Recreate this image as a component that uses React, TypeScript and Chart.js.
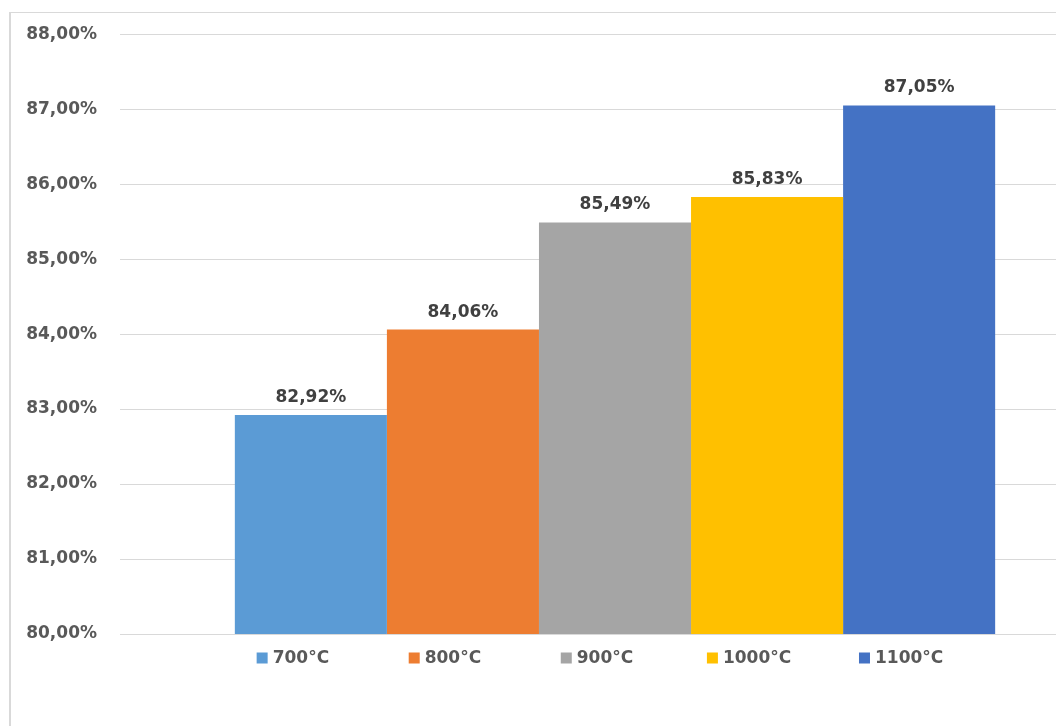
import React, { useEffect, useRef } from "react";
import { Chart, registerables } from "chart.js";
Chart.register(...registerables);

const categories = [""];
const seriesNames = ["700°C", "800°C", "900°C", "1000°C", "1100°C"];
const seriesValues = [82.92, 84.06, 85.49, 85.83, 87.05];
const seriesColors = ["#5B9BD5", "#ED7D31", "#A5A5A5", "#FFC000", "#4472C4"];
const yMin = 80;
const yMax = 88;
const yStep = 1;

const fmt = (v: number) => Number(v).toFixed(2).replace(".", ",") + "%";
const FONT = "'DejaVu Sans', sans-serif";

const labelsPlugin = {
  id: "barLabels",
  afterDatasetsDraw(chart: any) {
    const ctx = chart.ctx;
    ctx.save();
    ctx.font = `bold 17px ${FONT}`;
    ctx.fillStyle = "#404040";
    ctx.textAlign = "center";
    ctx.textBaseline = "bottom";
    chart.data.datasets.forEach((ds: any, i: number) => {
      const meta = chart.getDatasetMeta(i);
      meta.data.forEach((el: any, j: number) => {
        ctx.fillText(fmt(ds.data[j]), el.x, el.y - 9);
      });
    });
    ctx.restore();
  },
};

const legendPlugin = {
  id: "bottomLegend",
  afterDraw(chart: any) {
    const ctx = chart.ctx;
    const y = chart.chartArea.bottom + 24;
    ctx.save();
    ctx.font = `bold 17px ${FONT}`;
    ctx.textBaseline = "middle";
    ctx.textAlign = "left";
    chart.data.datasets.forEach((ds: any, i: number) => {
      const el = chart.getDatasetMeta(i).data[0];
      const box = 11;
      const gap = 5;
      const tw = ctx.measureText(ds.label).width;
      const total = box + gap + tw;
      const x0 = el.x - 18 - total / 2;
      ctx.fillStyle = ds.backgroundColor;
      ctx.fillRect(x0, y - box / 2, box, box);
      ctx.fillStyle = "#595959";
      ctx.fillText(ds.label, x0 + box + gap, y + 1);
    });
    ctx.restore();
  },
};

export default function App() {
  const ref = useRef<HTMLCanvasElement>(null);
  useEffect(() => {
    if (!ref.current) return;
    const chart = new Chart(ref.current, {
      type: "bar",
      data: {
        labels: categories,
        datasets: seriesNames.map((name, i) => ({
          label: name,
          data: [seriesValues[i]],
          backgroundColor: seriesColors[i],
          borderWidth: 0,
        })),
      },
      options: {
        responsive: false,
        animation: false,
        devicePixelRatio: 1,
        datasets: { bar: { categoryPercentage: 0.768, barPercentage: 1 } },
        layout: { padding: { top: 19, right: 18, bottom: 77, left: 0 } },
        plugins: {
          legend: { display: false },
          tooltip: { enabled: false },
          title: { display: false },
        },
        scales: {
          x: { display: false },
          y: {
            min: yMin,
            max: yMax,
            ticks: {
              stepSize: yStep,
              callback: (v: any) => fmt(v),
              color: "#595959",
              font: { family: FONT, size: 17, weight: "bold" },
              padding: 23,
            },
            grid: { color: "#D9D9D9", drawTicks: false, lineWidth: 1 },
            border: { display: false },
            afterFit: (s: any) => {
              s.width = 112;
            },
          },
        },
      },
      plugins: [labelsPlugin, legendPlugin],
    } as any);
    return () => chart.destroy();
  }, []);
  return (
    <div style={{ position: "absolute", left: 0, top: 0, width: 1056, height: 726, overflow: "hidden", background: "#fff" }}>
      <div
        style={{
          position: "absolute",
          left: 9,
          top: 12,
          width: 2000,
          height: 2000,
          borderLeft: "2px solid #D9D9D9",
          borderTop: "1px solid #D9D9D9",
        }}
      />
      <canvas ref={ref} width={1120} height={710} style={{ position: "absolute", left: 8, top: 1, width: 1120, height: 710 }} />
    </div>
  );
}
